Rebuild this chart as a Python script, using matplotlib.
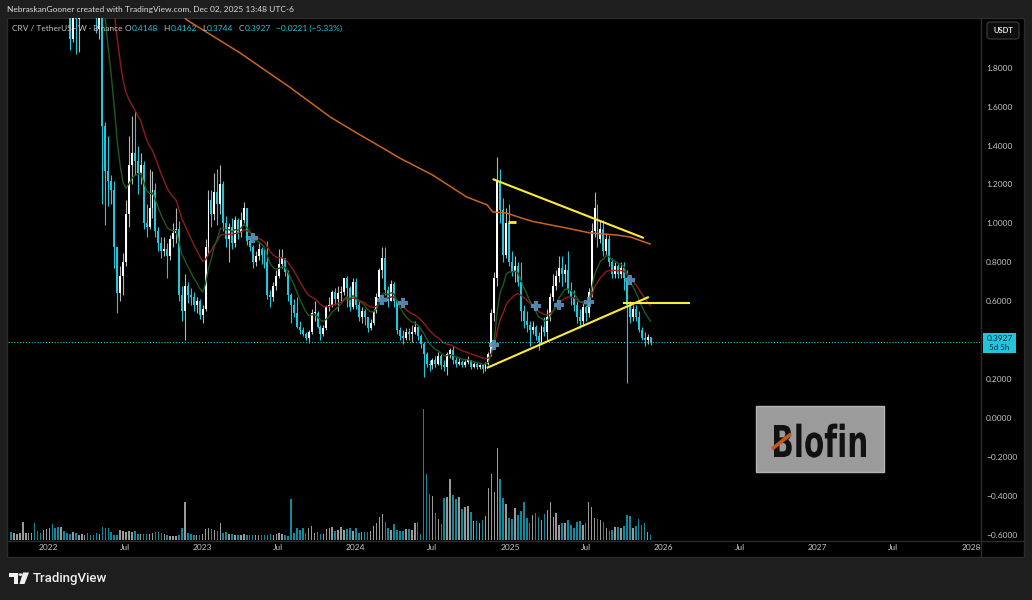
import numpy as np
import pandas as pd
import matplotlib
matplotlib.use("Agg")
import matplotlib.pyplot as plt
import matplotlib.dates as mdates
from matplotlib.patches import Rectangle, FancyBboxPatch, Polygon, Circle, PathPatch
from matplotlib.textpath import TextPath
from matplotlib.font_manager import FontProperties
from matplotlib.transforms import Affine2D
from matplotlib.lines import Line2D

# ---------------- data (weekly CRV/USDT, Binance) ----------------
start_week = "2021-10-04"
first_open = 2.7
close = [2.6, 2.7, 3.0, 3.2, 3.6, 4.3, 4.6, 4.9, 4.6, 4.0,
         3.7, 4.2, 5.2, 5.6, 4.6, 3.2, 2.9, 3.1, 2.9, 2.4,
         1.95, 2.2, 2.05, 2.3, 2.6, 2.7, 2.5, 2.3, 2.2, 2.0,
         2.15, 1.50, 1.27, 1.22, 1.17, 0.88, 0.64, 0.73, 0.80, 1.05,
         1.30, 1.36, 1.32, 1.26, 1.30, 1.00, 0.98, 1.08, 1.17, 0.96,
         0.90, 0.86, 0.87, 0.83, 0.92, 0.95, 0.97, 0.63, 0.55, 0.68,
         0.63, 0.62, 0.58, 0.60, 0.53, 0.56, 0.88, 1.12, 1.05, 1.16,
         1.10, 1.20, 1.00, 0.92, 0.98, 0.90, 1.02, 0.95, 1.02, 1.08,
         0.91, 0.88, 0.80, 0.83, 0.87, 0.84, 0.80, 0.63, 0.62, 0.68,
         0.73, 0.79, 0.82, 0.75, 0.63, 0.58, 0.54, 0.47, 0.45, 0.43,
         0.41, 0.44, 0.54, 0.54, 0.47, 0.43, 0.46, 0.57, 0.58, 0.65,
         0.61, 0.64, 0.65, 0.72, 0.67, 0.57, 0.70, 0.58, 0.52, 0.55,
         0.52, 0.46, 0.49, 0.55, 0.62, 0.76, 0.82, 0.66, 0.60, 0.69,
         0.60, 0.45, 0.42, 0.41, 0.44, 0.43, 0.44, 0.47, 0.42, 0.38,
         0.33, 0.28, 0.27, 0.30, 0.28, 0.32, 0.27, 0.26, 0.33, 0.35,
         0.30, 0.28, 0.29, 0.27, 0.29, 0.30, 0.26, 0.28, 0.26, 0.27,
         0.25, 0.28, 0.33, 0.54, 0.72, 1.22, 1.07, 0.84, 1.00, 0.80,
         0.75, 0.78, 0.70, 0.55, 0.50, 0.48, 0.45, 0.47, 0.42, 0.39,
         0.47, 0.44, 0.52, 0.62, 0.68, 0.73, 0.77, 0.74, 0.76, 0.66,
         0.62, 0.58, 0.52, 0.50, 0.57, 0.54, 0.65, 0.96, 1.08, 0.92,
         0.97, 0.86, 0.92, 0.80, 0.74, 0.78, 0.74, 0.77, 0.72, 0.58,
         0.52, 0.56, 0.52, 0.45, 0.41, 0.40, 0.4148, 0.3927]
high = [2.9, 2.9, 3.2, 3.4, 3.8, 4.6, 4.9, 5.2, 5.0, 4.7,
        4.2, 4.5, 5.6, 6.8, 5.7, 4.7, 3.4, 3.5, 3.3, 3.0,
        2.5, 2.3, 2.35, 2.4, 2.7, 2.9, 2.8, 2.6, 2.4, 2.3,
        2.2, 2.2, 1.52, 1.45, 1.25, 1.22, 0.88, 0.78, 0.85, 1.12,
        1.45, 1.55, 1.58, 1.40, 1.36, 1.32, 1.10, 1.28, 1.27, 1.21,
        0.98, 0.93, 0.93, 0.90, 0.94, 1.00, 1.08, 1.01, 0.68, 0.74,
        0.70, 0.67, 0.65, 0.62, 0.61, 0.58, 0.92, 1.17, 1.17, 1.26,
        1.28, 1.30, 1.22, 1.04, 1.00, 1.03, 1.04, 1.03, 1.06, 1.11,
        1.08, 0.93, 0.89, 0.86, 0.90, 0.88, 0.87, 0.91, 0.66, 0.70,
        0.76, 0.87, 0.87, 0.82, 0.76, 0.64, 0.61, 0.62, 0.50, 0.47,
        0.44, 0.45, 0.56, 0.60, 0.55, 0.48, 0.48, 0.58, 0.62, 0.66,
        0.67, 0.68, 0.68, 0.72, 0.73, 0.68, 0.72, 0.72, 0.60, 0.57,
        0.56, 0.52, 0.51, 0.56, 0.64, 0.77, 0.88, 0.88, 0.68, 0.71,
        0.70, 0.60, 0.47, 0.45, 0.46, 0.46, 0.48, 0.50, 0.48, 0.43,
        0.39, 0.34, 0.30, 0.31, 0.32, 0.34, 0.33, 0.30, 0.34, 0.36,
        0.37, 0.32, 0.31, 0.30, 0.30, 0.32, 0.30, 0.29, 0.29, 0.28,
        0.28, 0.29, 0.34, 0.56, 0.75, 1.34, 1.28, 1.13, 1.08, 1.10,
        0.86, 0.83, 0.80, 0.80, 0.58, 0.55, 0.50, 0.50, 0.48, 0.44,
        0.48, 0.52, 0.56, 0.64, 0.74, 0.76, 0.83, 0.83, 0.79, 0.86,
        0.70, 0.66, 0.60, 0.56, 0.60, 0.58, 0.67, 1.00, 1.16, 1.10,
        1.02, 1.02, 0.95, 0.94, 0.82, 0.80, 0.79, 0.80, 0.80, 0.76,
        0.60, 0.58, 0.58, 0.55, 0.47, 0.44, 0.43, 0.4162]
low = [2.4, 2.5, 2.6, 2.9, 3.1, 3.5, 4.1, 4.4, 4.3, 3.8,
       3.5, 3.6, 4.1, 4.8, 4.4, 3.0, 2.7, 2.8, 2.7, 2.25,
       1.89, 1.93, 1.87, 1.88, 2.25, 2.5, 2.4, 2.2, 2.1, 1.98,
       1.95, 1.10, 0.99, 1.09, 1.10, 0.77, 0.54, 0.60, 0.63, 0.78,
       0.98, 1.20, 1.25, 1.15, 1.20, 0.97, 0.93, 0.97, 1.03, 0.93,
       0.86, 0.82, 0.83, 0.72, 0.81, 0.88, 0.90, 0.60, 0.50, 0.40,
       0.59, 0.58, 0.55, 0.54, 0.51, 0.49, 0.55, 0.85, 0.98, 1.02,
       0.99, 1.05, 0.96, 0.88, 0.80, 0.87, 0.88, 0.92, 0.93, 1.00,
       0.89, 0.86, 0.77, 0.78, 0.81, 0.79, 0.77, 0.61, 0.57, 0.60,
       0.66, 0.72, 0.77, 0.73, 0.60, 0.49, 0.52, 0.46, 0.43, 0.42,
       0.40, 0.385, 0.43, 0.50, 0.46, 0.40, 0.42, 0.45, 0.55, 0.57,
       0.58, 0.55, 0.60, 0.63, 0.57, 0.55, 0.56, 0.56, 0.50, 0.49,
       0.48, 0.44, 0.45, 0.48, 0.54, 0.60, 0.72, 0.63, 0.57, 0.60,
       0.57, 0.43, 0.40, 0.38, 0.40, 0.40, 0.39, 0.43, 0.40, 0.36,
       0.21, 0.26, 0.24, 0.25, 0.26, 0.27, 0.25, 0.24, 0.22, 0.31,
       0.28, 0.26, 0.27, 0.26, 0.26, 0.28, 0.25, 0.255, 0.25, 0.25,
       0.23, 0.24, 0.27, 0.32, 0.50, 0.68, 1.00, 0.80, 0.82, 0.78,
       0.73, 0.70, 0.68, 0.50, 0.46, 0.44, 0.37, 0.43, 0.40, 0.35,
       0.38, 0.42, 0.40, 0.50, 0.60, 0.66, 0.70, 0.68, 0.70, 0.64,
       0.58, 0.55, 0.49, 0.46, 0.48, 0.50, 0.52, 0.62, 0.93, 0.88,
       0.90, 0.83, 0.84, 0.78, 0.72, 0.72, 0.72, 0.72, 0.66, 0.18,
       0.49, 0.50, 0.50, 0.44, 0.40, 0.37, 0.38, 0.3744]
volume = [8, 7, 6, 7, 18, 7, 7, 7, 17, 9,
          7, 10, 11, 12, 16, 12, 13, 13, 9, 7,
          6, 8, 7, 5, 6, 5, 7, 5, 5, 7,
          6, 13, 12, 12, 8, 5, 5, 10, 9, 8,
          9, 8, 9, 6, 6, 6, 6, 6, 7, 8,
          8, 7, 6, 5, 4, 4, 4, 5, 12, 38,
          7, 6, 5, 5, 5, 6, 11, 12, 11, 10,
          9, 17, 7, 8, 6, 6, 5, 5, 5, 6,
          5, 5, 5, 5, 5, 5, 5, 5, 6, 5,
          6, 7, 6, 5, 4, 41, 7, 12, 10, 12,
          7, 12, 14, 7, 8, 6, 6, 11, 12, 13,
          9, 10, 13, 10, 11, 12, 9, 12, 7, 8,
          8, 8, 9, 14, 17, 23, 26, 18, 12, 10,
          16, 10, 9, 9, 11, 11, 10, 17, 18, 6,
          131, 66, 46, 44, 27, 21, 16, 42, 43, 61,
          45, 41, 43, 31, 33, 34, 28, 19, 19, 17,
          20, 24, 52, 66, 48, 92, 61, 42, 36, 22,
          21, 32, 25, 29, 38, 22, 17, 25, 27, 23,
          20, 26, 30, 38, 23, 27, 15, 17, 17, 20,
          15, 12, 18, 19, 15, 17, 38, 33, 22, 21,
          20, 18, 12, 9, 10, 13, 13, 12, 14, 25,
          24, 12, 14, 21, 15, 17, 8, 5]

# long moving average (orange)
ma_long_dates = ["2022-10-17", "2022-11-26", "2023-04-01", "2023-07-28", "2023-11-01",
                 "2024-01-03", "2024-03-21", "2024-04-14", "2024-07-01", "2024-09-20",
                 "2024-11-08", "2024-11-21", "2024-12-24", "2025-01-25", "2025-02-24",
                 "2025-05-16", "2025-07-10", "2025-09-12", "2025-10-14", "2025-11-30"]
ma_long_vals = [2.13, 2.045, 1.876, 1.70, 1.547,
                1.465, 1.367, 1.336, 1.249, 1.136,
                1.095, 1.059, 1.053, 1.030, 1.010,
                0.976, 0.951, 0.940, 0.930, 0.894]

# cross markers
cross_dates = ["2023-05-01", "2024-03-04", "2024-04-22", "2024-11-25",
               "2025-03-03", "2025-04-28", "2025-07-07", "2025-10-13"]
cross_vals = [0.925, 0.606, 0.59, 0.375, 0.575, 0.58, 0.596, 0.71]
dash_date, dash_val = "2025-01-06", 1.007

# drawn trendlines
trend_upper = (["2024-11-21", "2025-11-15"], [1.228, 0.925])
trend_lower = (["2024-11-07", "2025-11-27"], [0.257, 0.622])
trend_horiz = (["2025-09-26", "2026-03-05"], [0.591, 0.591])

last_price = 0.3927
price_ticks = [-0.6, -0.4, -0.2, 0.0, 0.2, 0.6, 0.8, 1.0, 1.2, 1.4, 1.6, 1.8]
time_ticks = ["2022-01-01", "2022-07-01", "2023-01-01", "2023-07-01", "2024-01-01",
              "2024-07-01", "2025-01-01", "2025-07-01", "2026-01-01", "2026-07-01",
              "2027-01-01", "2027-07-01", "2028-01-01"]
time_labels = ["2022", "Jul", "2023", "Jul", "2024", "Jul", "2025", "Jul",
               "2026", "Jul", "2027", "Jul", "2028"]

# ---------------- figure ----------------
W, H = 1032, 600
UI = ["Lato", "DejaVu Sans"]
FS = 6.0
fig = plt.figure(figsize=(W / 100, H / 100), dpi=100, facecolor="#1e1e1e")


def fx(px):
    return px / W


def fy(py):
    return 1 - py / H


# black chart panel (behind axes)
fig.patches.append(Rectangle((fx(7), fy(557)), fx(1024) - fx(7), fy(18) - fy(557),
                             transform=fig.transFigure, facecolor="black",
                             edgecolor="#2b2b2b", lw=1, zorder=-5))

rect = [fx(8), fy(540), fx(980) - fx(8), fy(18) - fy(540)]
vax = fig.add_axes(rect)
ax = fig.add_axes(rect, sharex=vax)
vax.set_facecolor("black")
ax.patch.set_alpha(0)

weeks = pd.date_range(start_week, periods=len(close), freq="7D")
xd = mdates.date2num(weeks)
c = np.array(close)
o = np.r_[first_open, c[:-1]]
hi = np.maximum(np.array(high), np.maximum(o, c))
lo = np.minimum(np.array(low), np.minimum(o, c))
up = c >= o

UPC, DNC = "#ffffff", "#26c6da"
VUP, VDN = "#9a9a9a", "#0e8a9c"

# volume
vax.bar(xd, volume, width=3.6, color=np.where(up, VUP, VDN), linewidth=0)
vax.set_ylim(0, 522)
vax.axis("off")

# wicks & bodies
ax.vlines(xd, lo, hi, colors=np.where(up, "#b5b5b5", DNC), lw=0.8, zorder=2)
body_h = np.maximum(np.abs(c - o), 0.004)
ax.bar(xd, body_h, bottom=np.minimum(o, c), width=4.6,
       color=np.where(up, UPC, DNC), linewidth=0, zorder=3)

# moving averages
s = pd.Series(c)
ema_fast = s.ewm(span=10, adjust=False).mean()
ema_slow = s.ewm(span=20, adjust=False).mean()
ax.plot(xd, ema_slow, color="#8e1c1c", lw=1.0, zorder=4)
ax.plot(xd, ema_fast, color="#1d5a1d", lw=1.0, zorder=4)
ax.plot(mdates.date2num(pd.to_datetime(ma_long_dates)), ma_long_vals,
        color="#c8661f", lw=1.1, zorder=4)

# markers
ax.plot(mdates.date2num(pd.to_datetime(cross_dates)), cross_vals, ls="none",
        marker="P", ms=7, color="#5a93c0", alpha=0.9, mew=0, zorder=6)
ax.plot(mdates.date2num(pd.to_datetime([dash_date])), [dash_val], ls="none",
        marker="_", ms=6, mew=2, color="#ffe93b", zorder=6)

# trendlines
for dts, vals in (trend_upper, trend_lower, trend_horiz):
    ax.plot(mdates.date2num(pd.to_datetime(dts)), vals, color="#ffeb3b", lw=1.5,
            zorder=7, solid_capstyle="butt")

# last price line
ax.axhline(last_price, color="#22c4dd", lw=0.8, ls=(0, (1, 1.6)), zorder=5)

# scales
x2022 = mdates.date2num(pd.Timestamp("2022-01-01"))
ax.set_xlim(x2022 - 96.2, x2022 + 2212.6)
ax.set_ylim(-0.627, 2.0555)
for sp in ax.spines.values():
    sp.set_visible(False)
ax.yaxis.tick_right()
ax.set_yticks(price_ticks)
ax.set_yticklabels([f"{v:.4f}".replace("-", "\u2212") for v in price_ticks])
ax.set_xticks(mdates.date2num(pd.to_datetime(time_ticks)))
ax.set_xticklabels(time_labels)
ax.tick_params(axis="y", length=0, pad=4.5, labelsize=FS, labelcolor="#c4c6cc")
ax.tick_params(axis="x", length=0, pad=3.0, labelsize=FS, labelcolor="#c4c6cc")
for lab in ax.get_xticklabels() + ax.get_yticklabels():
    lab.set_family(UI)

# separators
fig.add_artist(Line2D([fx(980.5), fx(980.5)], [fy(18), fy(557)], color="#2b2b2b", lw=1))
fig.add_artist(Line2D([fx(7), fx(1024)], [fy(540.5), fy(540.5)], color="#2b2b2b", lw=1))

# header
fig.text(fx(7), fy(9), "NebraskanGooner created with TradingView.com, Dec 02, 2025 13:48 UTC-6",
         color="#dcdcdc", fontsize=FS, family=UI, va="center", ha="left")

# legend line, laid out left to right without overlaps
renderer = fig.canvas.get_renderer()
LY = fy(28.5)
GREY, CY = "#c2c2c2", "#22c4dd"
pieces = [("CRV / TetherUS \u00b7 W \u00b7 Binance", GREY, 2.5),
          ("O", GREY, 0.6), ("0.4148", CY, 5.0),
          ("H", GREY, 0.6), ("0.4162", CY, 5.0),
          ("L", GREY, 0.6), ("0.3744", CY, 5.0),
          ("C", GREY, 0.6), ("0.3927", CY, 5.0),
          ("\u22120.0221 (\u22125.33%)", CY, 0)]
xpos = 12.0
for t, col, gap in pieces:
    txt = fig.text(fx(xpos), LY, t, color=col, fontsize=FS, family=UI, va="center")
    xpos += txt.get_window_extent(renderer).width + gap

# USDT box
fig.patches.append(FancyBboxPatch((fx(987), fy(39)), fx(1019) - fx(987), fy(22) - fy(39),
                                  boxstyle="round,pad=0,rounding_size=0.004",
                                  transform=fig.transFigure, facecolor="#0d0d0d",
                                  edgecolor="#3c3c3c", lw=0.8))
fig.text(fx(1003), fy(30.5), "USDT", color="#e6e6e6", fontsize=5.5, family=UI,
         weight="bold", ha="center", va="center")

# last price label
fig.patches.append(Rectangle((fx(983), fy(353)), fx(1016) - fx(983), fy(333) - fy(353),
                             transform=fig.transFigure, facecolor="#22c4dd",
                             edgecolor="none"))
fig.text(fx(999.5), fy(338.5), f"{last_price:.4f}", color="#08262e", fontsize=FS,
         family=UI, ha="center", va="center")
fig.text(fx(999.5), fy(347.5), "5d 5h", color="#08262e", fontsize=5.8,
         family=UI, ha="center", va="center")

# Blofin watermark
fig.patches.append(Rectangle((fx(756), fy(472)), fx(884) - fx(756), fy(406) - fy(472),
                             transform=fig.transFigure, facecolor="#9b9b9b",
                             edgecolor="#b4b4b4", lw=1))
tp = TextPath((0, 0), "Blofin", size=1,
              prop=FontProperties(family="DejaVu Sans", weight="bold"))
ext = tp.get_extents()
sx = 92 / ext.width
sy = 32 / 0.729
tr = Affine2D().translate(-ext.x0, 0).scale(sx / W, sy / H).translate(fx(774), fy(457)) + fig.transFigure
fig.patches.append(PathPatch(tp, transform=tr, facecolor="#111111", edgecolor="none"))
fig.add_artist(Line2D([fx(772), fx(791)], [fy(449), fy(434)], color="#c4581a", lw=2.6,
                      solid_capstyle="butt"))

# TradingView footer logo
def poly(pts, **kw):
    fig.patches.append(Polygon([(fx(a), fy(b)) for a, b in pts], closed=True,
                               transform=fig.transFigure, **kw))


poly([(9, 572.5), (18, 572.5), (18, 584), (14, 584), (14, 576.5), (9, 576.5)],
     facecolor="#f0f0f0", edgecolor="none")
fig.patches.append(Circle((fx(20.5), fy(574.6)), 2.1 / W, transform=fig.transFigure,
                          facecolor="#f0f0f0", edgecolor="none"))
poly([(23, 572.5), (29, 572.5), (24.5, 584), (19.5, 584)], facecolor="#f0f0f0",
     edgecolor="none")
fig.text(fx(33), fy(578.5), "TradingView", color="#f0f0f0", fontsize=9.5,
         family=["Roboto", "DejaVu Sans"], weight="medium", va="center", ha="left")

fig.savefig("out.png", dpi=100, facecolor=fig.get_facecolor())
